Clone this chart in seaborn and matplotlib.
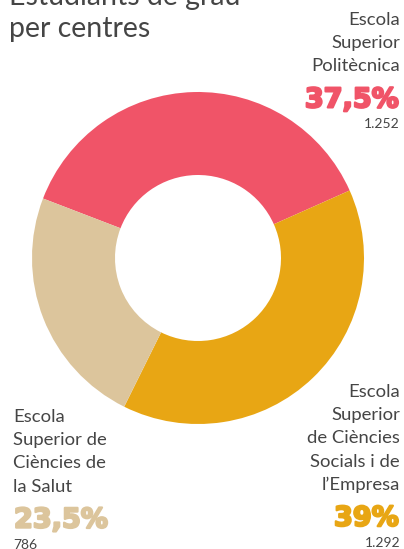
import matplotlib.pyplot as plt
import matplotlib.patheffects as pe
import seaborn as sns

sns.set_theme(style="white")
plt.rcParams['font.family'] = ['Lato', 'DejaVu Sans']

# data
centres = ["Escola Superior Politècnica",
           "Escola Superior de Ciències Socials i de l’Empresa",
           "Escola Superior de Ciències de la Salut"]
shares = [37.5, 39.0, 23.5]
pct_labels = ["37,5%", "39%", "23,5%"]
students = ["1.252", "1.292", "786"]
label_lines = [["Escola", "Superior", "Politècnica"],
               ["Escola", "Superior", "de Ciències", "Socials i de", "l’Empresa"],
               ["Escola", "Superior de", "Ciències de", "la Salut"]]
title_lines = ["Estudiants de grau", "per centres"]

colors = ["#f05468", "#e8a614", "#dcc59c"]
grey = "#454545"

W, H = 404, 549
fig = plt.figure(figsize=(W / 100, H / 100), dpi=100)

cx, cy, r = 198, 258, 166
ax = fig.add_axes([(cx - r) / W, 1 - (cy + r) / H, 2 * r / W, 2 * r / H])
ax.pie(shares, colors=colors, startangle=159, counterclock=False,
       wedgeprops=dict(width=0.5, edgecolor="none"))
ax.set_xlim(-1, 1)
ax.set_ylim(-1, 1)
ax.set_aspect("equal")
ax.axis("off")


def put(x, y, s, **kw):
    return fig.text(x / W, 1 - y / H, s, va="baseline", **kw)


# title
for i, line in enumerate(title_lines):
    put(9, 5 + 32 * i, line, fontsize=20.5, color=grey)

# label blocks: (x, first baseline, alignment)
blocks = [(400, 25, "right"), (400, 397, "right"), (13, 422, "left")]
for k, (x, y0, ha) in enumerate(blocks):
    lines = label_lines[k]
    for j, line in enumerate(lines):
        put(x, y0 + 23.2 * j, line, fontsize=13.3, color=grey, ha=ha)
    yb = y0 + 23.2 * (len(lines) - 1)
    t = put(x - (1 if ha == "right" else -1), yb + 36, pct_labels[k],
            fontsize=19.5, fontweight="bold", family="DejaVu Sans",
            color=colors[k], ha=ha)
    t.set_path_effects([pe.withStroke(linewidth=1.6, foreground=colors[k])])
    put(x, yb + 57, students[k], fontsize=10, color=grey, ha=ha)

fig.savefig("out.png", dpi=100)
